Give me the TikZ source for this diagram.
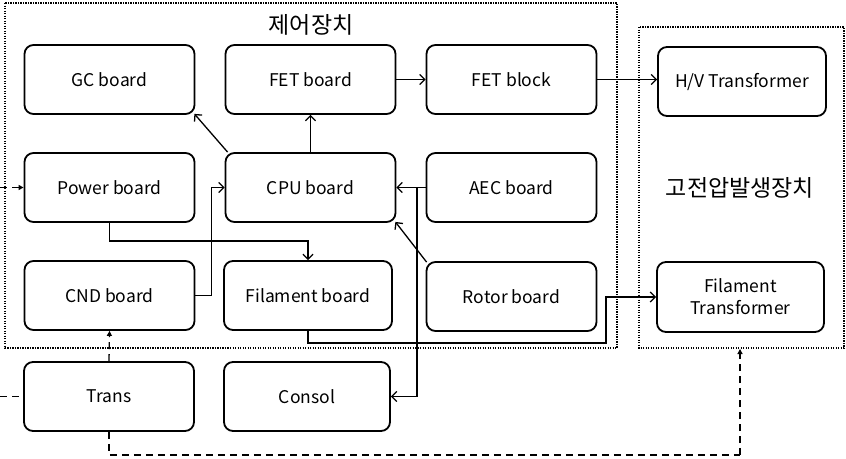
\documentclass[tikz,border=0pt]{standalone}
\usepackage{fontspec}
\setmainfont{Noto Sans CJK KR}
\usetikzlibrary{arrows.meta}
\begin{document}
\begin{tikzpicture}[x=1pt,y=-1pt,
  box/.style={draw, line width=1.8pt, rounded corners=9pt, align=center, inner sep=0pt,
    minimum width=170pt, minimum height=69pt, font=\fontsize{17.5}{21}\selectfont},
  conn/.style={line width=1.3pt, -{Straight Barb[length=5pt,width=10pt,line width=1.3pt]}},
  dconn/.style={line width=1.3pt, dash pattern=on 7pt off 5pt},
  dtip/.style={-{Triangle[length=5pt,width=5pt]}},
  region/.style={draw, line width=2.2pt, dash pattern=on 1.2pt off 1.3pt},
  title/.style={font=\fontsize{23}{26}\selectfont, inner sep=0pt}]
\useasboundingbox (0,0) rectangle (846,458);

% regions
\draw[region] (5,3) rectangle (617,348);
\draw[region] (639,27) rectangle (844,348);
\node[title] (t1) at (311,25) {제어장치};
\node[title] (t2) at (740,188) {고전압발생장치};

% boxes
\node[box] (gc)    at (109.5,79.5) {GC board};
\node[box] (fetb)  at (310.5,79.5) {FET board};
\node[box] (fetk)  at (511.5,79.5) {FET block};
\node[box, minimum width=168pt] (hv) at (742,81.5) {H/V Transformer};
\node[box] (power) at (109.5,187.5) {Power board};
\node[box] (cpu)   at (310.5,187.5) {CPU board};
\node[box] (aec)   at (511.5,187.5) {AEC board};
\node[box] (cnd)   at (109.5,295.5) {CND board};
\node[box, minimum width=168pt] (fil) at (308,295.5) {Filament board};
\node[box] (rotor) at (511.5,296.5) {Rotor board};
\node[box, minimum width=167pt, minimum height=70pt, font=\fontsize{17.5}{22}\selectfont] (ft) at (740.5,297) {Filament\\Transformer};
\node[box] (trans) at (109,396.5) {Trans};
\node[box, minimum width=166pt] (consol) at (307,396.5) {Consol};

% coordinates
\coordinate (j1) at (417,187.5);
\coordinate (pl) at (0,187.5);
\coordinate (tl) at (0,396.5);
\coordinate (fc) at (606,343);
\coordinate (hvb) at (740,455);
\coordinate (hvt) at (740,349);

% solid connectors
\draw[conn] (fetb.east) -- (fetk.west);
\draw[conn] (fetk.east) -- (fetk.east -| hv.west);
\draw[conn] (cpu.north) -- (fetb.south);
\draw[conn] ([xshift=3pt]cpu.north west) -- ([xshift=-1pt,yshift=1pt]gc.south east);
\draw[conn] (aec.west) -- (cpu.east);
\draw[conn] ([xshift=1pt,yshift=-1pt]rotor.north west) -- ([xshift=-1pt,yshift=1pt]cpu.south east);
\draw[conn] (j1) |- (consol.east);
\draw[conn] (power.south) -- ++(0,18) -| (fil.north);
\draw[conn] (cnd.east) -- ++(16,0) |- (cpu.west);
\draw[conn] (fil.south) |- (fc) |- (ft.west);

% dashed connectors
\draw[dconn, dtip] (pl) -- (power.west);
\draw[dconn] (tl) -- (trans.west);
\draw[dconn, dtip] (trans.north) -- (cnd.south);
\draw[dconn] (trans.south) |- (hvb);
\draw[dconn, dtip] (hvb) -- (hvt);
\end{tikzpicture}
\end{document}
